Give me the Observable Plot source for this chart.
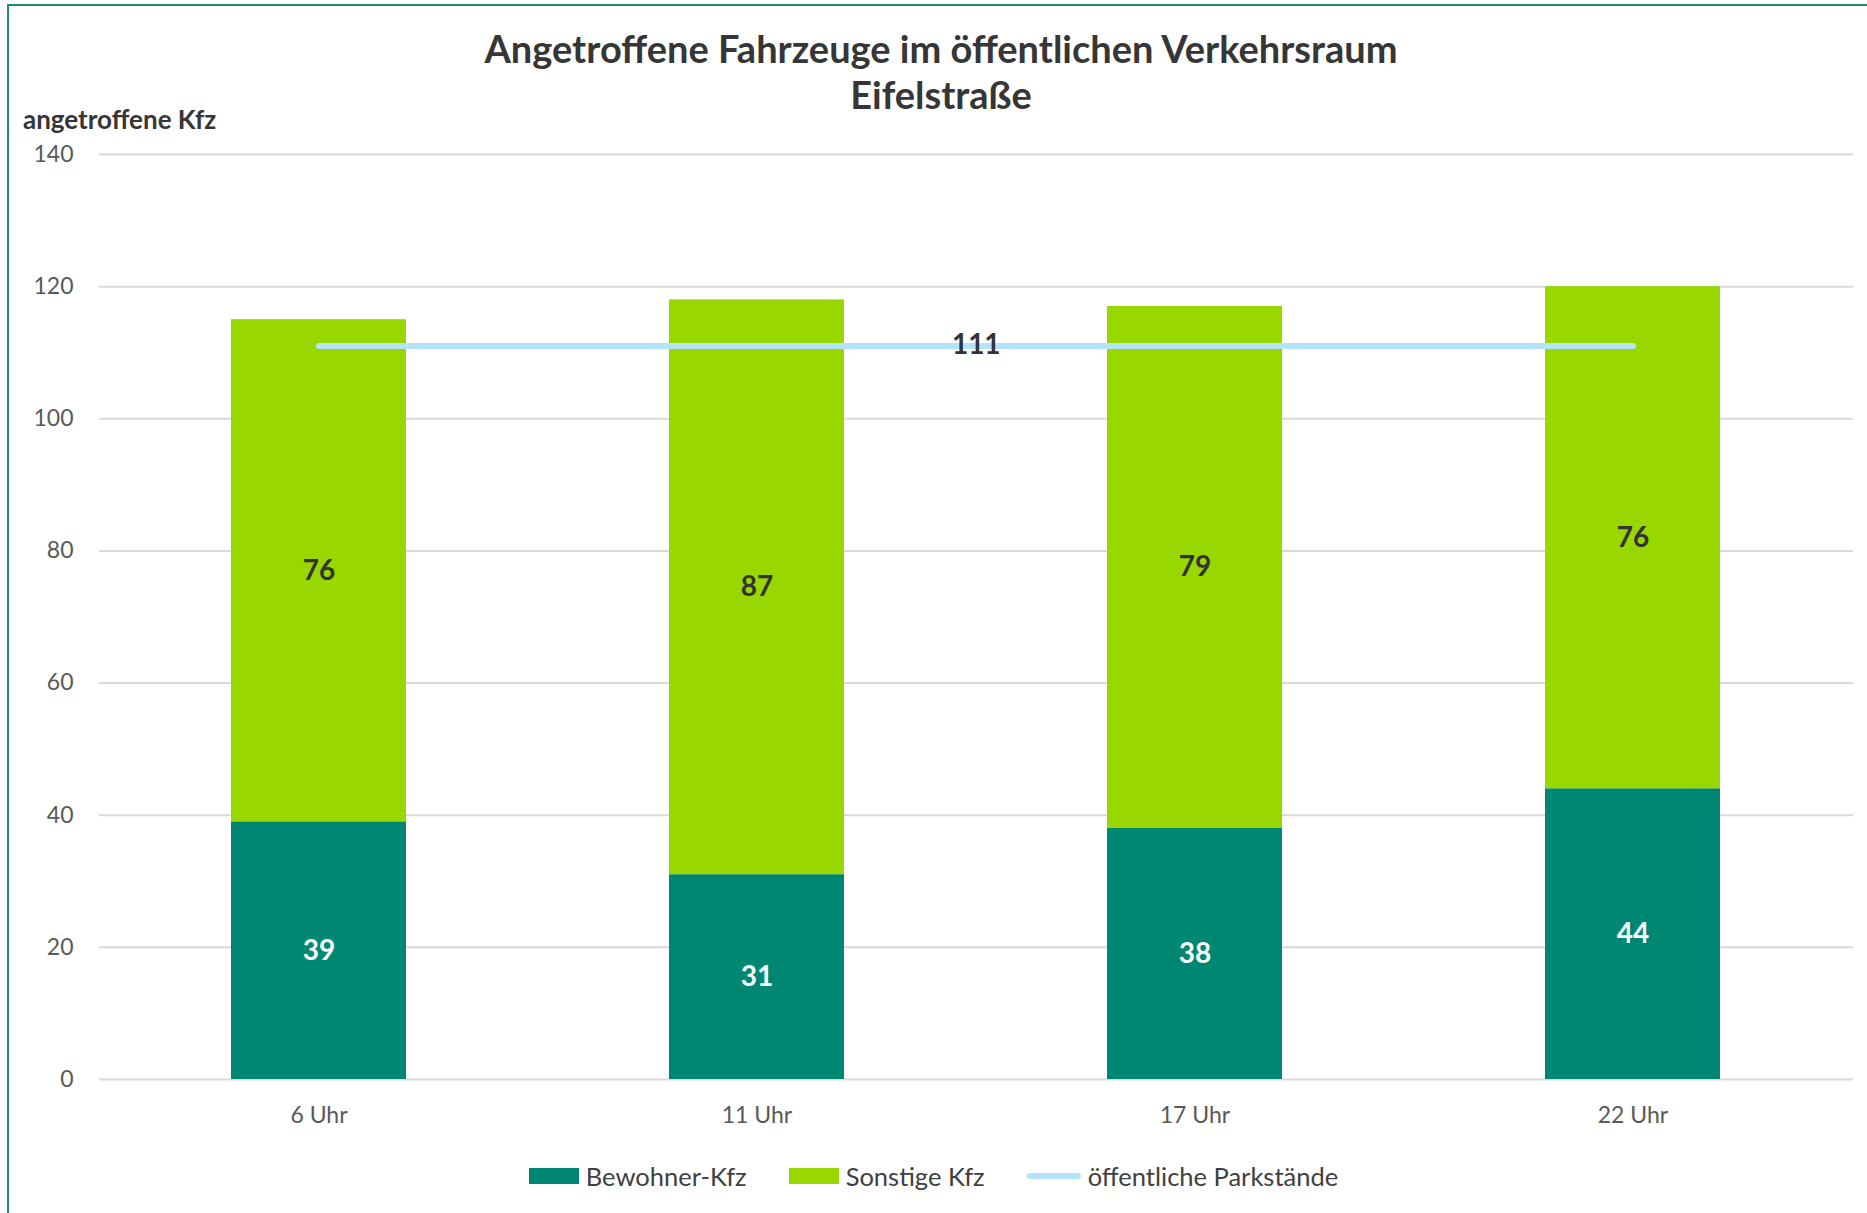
<!DOCTYPE html>
<html>
<head>
<meta charset="utf-8">
<script src="https://cdn.jsdelivr.net/npm/d3@7"></script>
<script src="https://cdn.jsdelivr.net/npm/@observablehq/plot@0.6"></script>
<style>
  html, body { margin: 0; padding: 0; background: #fff; overflow: hidden; }
  body { width: 1867px; height: 1213px; position: relative; font-family: Lato, "Open Sans", sans-serif; }
  #frame { position: absolute; z-index: 10; left: 7px; top: 4px; width: 2000px; height: 1400px; border: 2px solid #1b8c7a; box-sizing: border-box; pointer-events: none; }
  #header { position: absolute; z-index: 5; left: 0; top: 0; width: 1867px; height: 130px; }
  #title { position: absolute; left: 0; top: 25px; width: 1882px; text-align: center; font-weight: 700; font-size: 38px; line-height: 46px; color: #363636; }
  #ylabel { position: absolute; left: 23px; top: 103px; font-weight: 700; font-size: 26px; color: #363636; }
  #chart { position: absolute; left: 0; top: 130px; }
  #legend { position: absolute; left: 0; top: 1158px; width: 1867px; height: 36px; display: flex; justify-content: center; align-items: center; font-size: 25.5px; color: #404040; }
  .item { display: flex; align-items: center; margin: 0 21px; }
  .sw { width: 50px; height: 16px; margin-right: 7px; }
  .ln { width: 54px; height: 6px; border-radius: 3px; margin-right: 7px; }
</style>
</head>
<body>
<div id="frame"></div>
<div id="header">
  <div id="title">Angetroffene Fahrzeuge im öffentlichen Verkehrsraum<br>Eifelstraße</div>
  <div id="ylabel">angetroffene Kfz</div>
</div>
<div id="chart"></div>
<div id="legend"></div>
<script>
const times = ["6 Uhr", "11 Uhr", "17 Uhr", "22 Uhr"];
const bewohner = [39, 31, 38, 44];
const sonstige = [76, 87, 79, 76];
const parkstaende = [111, 111, 111, 111];
const seriesNames = ["Bewohner-Kfz", "Sonstige Kfz", "öffentliche Parkstände"];
const seriesColors = ["#008774", "#98d700", "#b3e4fc"];
const yTicks = [0, 20, 40, 60, 80, 100, 120, 140];

const stacked = [];
times.forEach((t, i) => {
  stacked.push({time: t, series: seriesNames[0], value: bewohner[i]});
  stacked.push({time: t, series: seriesNames[1], value: sonstige[i]});
});
const lineData = times.map((t, i) => ({time: t, value: parkstaende[i]}));

const W = 1867, H = 1010, ML = 99, MR = 14, MT = 24, MB = 61;
const step = (W - ML - MR) / times.length;

const plot = Plot.plot({
  width: W,
  height: H,
  marginLeft: ML,
  marginRight: MR,
  marginTop: MT,
  marginBottom: MB,
  style: {fontFamily: "Lato, 'Open Sans', sans-serif", fontSize: "23px", color: "#595959", background: "#fff"},
  x: {domain: times, paddingInner: 0.6, paddingOuter: 0.3, label: null, tickSize: 0, tickPadding: 27},
  y: {domain: [0, 140], ticks: yTicks, label: null, tickSize: 0, tickPadding: 26},
  color: {domain: seriesNames, range: seriesColors},
  marks: [
    Plot.ruleY(yTicks, {stroke: "#d9d9d9", strokeWidth: 2}),
    Plot.barY(stacked, {x: "time", y: "value", fill: "series", order: seriesNames}),
    Plot.text(stacked, Plot.stackY({x: "time", y: "value", order: seriesNames, text: d => String(d.value),
      fill: d => d.series === seriesNames[0] ? "#ffffff" : "#333333",
      fontWeight: "bold", fontSize: 28})),
    Plot.lineY(lineData, {x: "time", y: "value", stroke: seriesColors[2], strokeWidth: 6, strokeLinecap: "round"}),
    Plot.text([lineData[1]], {x: "time", y: "value", text: d => String(d.value), dx: step / 2, dy: -1,
      fill: "#333333", fontWeight: "bold", fontSize: 28})
  ]
});
document.getElementById("chart").appendChild(plot);

const legend = document.getElementById("legend");
seriesNames.forEach((name, i) => {
  const item = document.createElement("div");
  item.className = "item";
  const sw = document.createElement("div");
  sw.className = i < 2 ? "sw" : "ln";
  sw.style.background = seriesColors[i];
  const label = document.createElement("span");
  label.textContent = name;
  item.appendChild(sw);
  item.appendChild(label);
  legend.appendChild(item);
});
</script>
</body>
</html>
